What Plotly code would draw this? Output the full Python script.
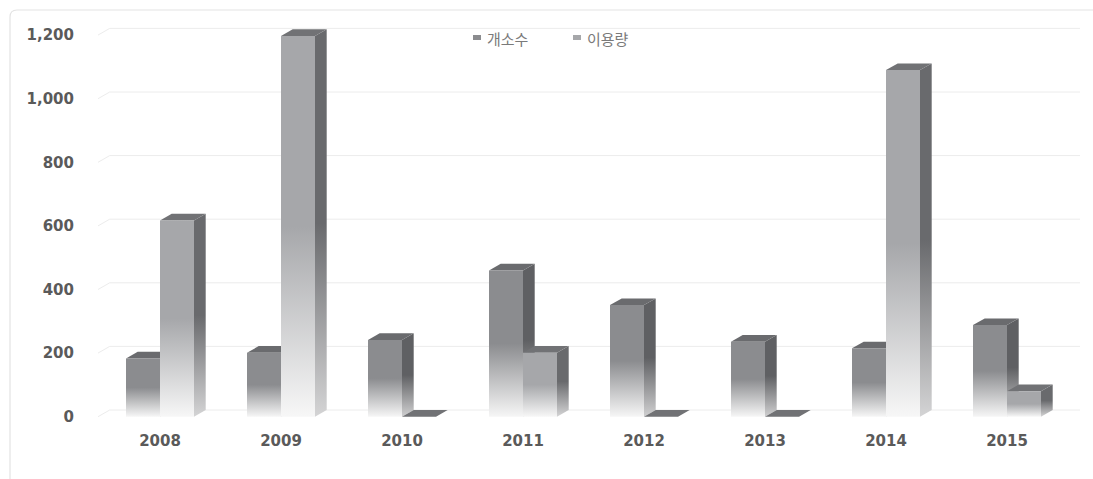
import plotly.graph_objects as go

# ---- data ----
years = ["2008", "2009", "2010", "2011", "2012", "2013", "2014", "2015"]
sites = [183, 201, 241, 460, 351, 236, 215, 288]          # 개소수
usage = [617, 1197, 0, 201, 0, 0, 1090, 80]               # 이용량
series_names = ["개소수", "이용량"]
y_ticks = [0, 200, 400, 600, 800, 1000, 1200]
y_tick_text = ["0", "200", "400", "600", "800", "1,000", "1,200"]

# ---- geometry of the pseudo-3D bars (axis units) ----
PX_PER_CAT = 121.0          # pixels per category step
PX_PER_UNIT = 0.318         # pixels per value unit
BAR_W = 34 / PX_PER_CAT     # front face width
DX = 11.7 / PX_PER_CAT      # depth offset to the right
DY = 6.7 / PX_PER_UNIT      # depth offset upwards

# colours: front, side, top, faded bottom of front, faded bottom of side
styles = [
    dict(front="#8b8c8f", side="#5f6063", top="#6a6b6e", fade="#f6f6f6", side_fade="#cfcfd0"),
    dict(front="#a6a7aa", side="#696a6d", top="#717275", fade="#f7f7f7", side_fade="#d4d4d5"),
]

NUM_FONT = "DejaVu Sans, Verdana, sans-serif"
KR_FONT = "Noto Sans CJK KR, sans-serif"
TXT = "#5a5a5a"

fig = go.Figure()


def face(xs, ys, colorscale, y0, y1):
    fig.add_trace(go.Scatter(
        x=xs + [xs[0]], y=ys + [ys[0]],
        mode="lines", line=dict(width=0),
        fill="toself",
        fillgradient=dict(type="vertical", colorscale=colorscale,
                          start=y0, stop=y1 if y1 > y0 else y0 + 1),
        hoverinfo="skip", showlegend=False,
    ))


def flat(xs, ys, color):
    fig.add_trace(go.Scatter(
        x=xs + [xs[0]], y=ys + [ys[0]],
        mode="lines", line=dict(width=0, color=color),
        fill="toself", fillcolor=color,
        hoverinfo="skip", showlegend=False,
    ))


def bar3d(i, s, value, st):
    x0 = i + (s - 1) * BAR_W
    x1 = x0 + BAR_W
    yb = -DY
    yt = value - DY
    # side face
    face([x1, x1, x1 + DX, x1 + DX], [yb, yt, value, 0],
         [[0, st["side_fade"]], [0.5, st["side"]], [1, st["side"]]], yb, value)
    # top face
    flat([x0, x0 + DX, x1 + DX, x1], [yt, value, value, yt], st["top"])
    # front face
    if value > 0:
        face([x0, x0, x1, x1], [yb, yt, yt, yb],
             [[0, st["fade"]], [0.5, st["front"]], [1, st["front"]]], yb, yt)


for i in range(len(years)):
    for s, vals in enumerate([sites, usage]):
        bar3d(i, s, vals[i], styles[s])

# ---- axis ranges mapped to the pixel layout ----
W, H = 1093, 479
ML, MR, MT, MB = 97, 11, 20, 49
plot_w = W - ML - MR
plot_h = H - MT - MB
x_center0 = 160  # pixel of first category boundary
x_range = [(ML - x_center0) / PX_PER_CAT, (W - MR - x_center0) / PX_PER_CAT]
zero_px = 410
y_range = [(zero_px - (H - MB)) / PX_PER_UNIT, (zero_px - MT) / PX_PER_UNIT]

# back-wall gridlines with a short perspective lead-in on the left
shapes = []
x_gl = (98 - x_center0) / PX_PER_CAT
x_gr = (1080 - x_center0) / PX_PER_CAT
for v in y_ticks:
    shapes.append(dict(
        type="path", xref="x", yref="y", layer="below",
        path=f"M {x_gl},{v - DY} L {x_gl + DX},{v} L {x_gr},{v}",
        line=dict(color="#ececec", width=1),
    ))


def px_x(p):
    return (p - ML) / plot_w


def px_y(p):
    return (H - MB - p) / plot_h


# card outline with a rounded top-left corner
r = 7
shapes.append(dict(
    type="path", xref="paper", yref="paper", layer="below",
    path=(f"M {px_x(10)},{px_y(H + 2)} L {px_x(10)},{px_y(10 + r)} "
          f"Q {px_x(10)},{px_y(10)} {px_x(10 + r)},{px_y(10)} L {px_x(W + 2)},{px_y(10)}"),
    line=dict(color="#e3e3e3", width=1.2),
))

# legend markers and labels
annotations = []
legend_x = [473, 573]
for k, name in enumerate(series_names):
    lx = legend_x[k]
    shapes.append(dict(
        type="rect", xref="paper", yref="paper",
        x0=px_x(lx), x1=px_x(lx + 8), y0=px_y(40), y1=px_y(35),
        fillcolor=styles[k]["front"], line=dict(width=0),
    ))
    annotations.append(dict(
        xref="paper", yref="paper", x=px_x(lx + 12), y=px_y(38),
        xanchor="left", yanchor="middle", showarrow=False,
        text=name, font=dict(family=KR_FONT, size=15, color="#7a7a7a"),
    ))

fig.update_layout(
    width=W, height=H,
    margin=dict(l=ML, r=MR, t=MT, b=MB, pad=0),
    paper_bgcolor="white", plot_bgcolor="white",
    showlegend=False,
    shapes=shapes, annotations=annotations,
    xaxis=dict(
        range=x_range, showgrid=False, zeroline=False, showline=False,
        tickmode="array", tickvals=list(range(len(years))), ticktext=years,
        ticks="", tickfont=dict(family=NUM_FONT, size=15, color=TXT, weight="bold"),
        fixedrange=True,
    ),
    yaxis=dict(
        range=y_range, showgrid=False, zeroline=False, showline=False,
        tickmode="array", tickvals=[v - DY for v in y_ticks], ticktext=y_tick_text,
        ticks="", ticklabelstandoff=22,
        tickfont=dict(family=NUM_FONT, size=15, color=TXT, weight="bold"),
        fixedrange=True,
    ),
)

fig.write_html("out.html")
